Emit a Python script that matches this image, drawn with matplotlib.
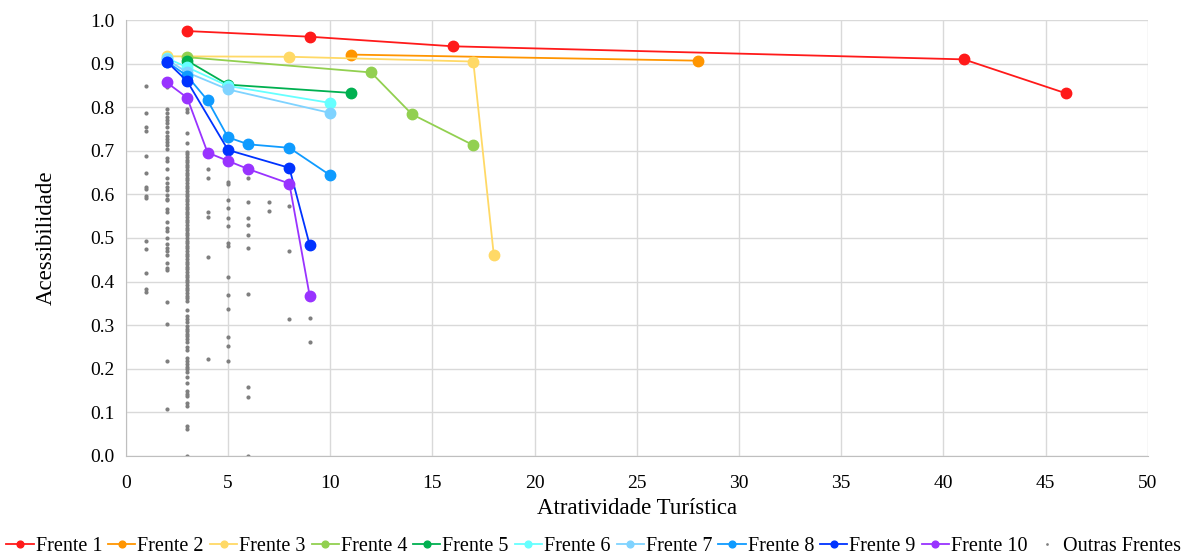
import matplotlib
matplotlib.use("Agg")
import matplotlib.pyplot as plt

plt.rcParams['font.family'] = ['Liberation Serif', 'DejaVu Serif']

# series (atratividade, acessibilidade)
f1_x = [3, 9, 16, 41, 46]
f1_y = [0.975, 0.962, 0.940, 0.910, 0.832]
f2_x = [11, 28]
f2_y = [0.921, 0.907]
f3_x = [2, 8, 17, 18]
f3_y = [0.917, 0.916, 0.905, 0.462]
f4_x = [3, 12, 14, 17]
f4_y = [0.915, 0.880, 0.784, 0.713]
f5_x = [3, 5, 11]
f5_y = [0.907, 0.852, 0.833]
f6_x = [2, 3, 5, 10]
f6_y = [0.913, 0.892, 0.849, 0.810]
f7_x = [2, 3, 5, 10]
f7_y = [0.910, 0.880, 0.841, 0.787]
f8_x = [2, 3, 4, 5, 6, 8, 10]
f8_y = [0.905, 0.872, 0.816, 0.731, 0.715, 0.707, 0.644]
f9_x = [2, 3, 5, 8, 9]
f9_y = [0.905, 0.860, 0.702, 0.661, 0.483]
f10_x = [2, 3, 4, 5, 6, 8, 9]
f10_y = [0.857, 0.822, 0.696, 0.677, 0.658, 0.625, 0.366]

# outras frentes, por coluna de atratividade
out_1 = [0.849, 0.788, 0.755, 0.745, 0.688, 0.650, 0.618, 0.613, 0.596, 0.591,
         0.494, 0.475, 0.419, 0.382, 0.375]
out_2 = [0.847, 0.795, 0.788, 0.778, 0.771, 0.763, 0.754, 0.743, 0.735, 0.728,
         0.720, 0.713, 0.705, 0.683, 0.676, 0.658, 0.637, 0.627, 0.618, 0.610,
         0.598, 0.590, 0.587, 0.567, 0.559, 0.537, 0.524, 0.516, 0.499, 0.486,
         0.478, 0.470, 0.461, 0.442, 0.432, 0.426, 0.354, 0.302, 0.217, 0.108]
out_3 = [0.797, 0.790, 0.742, 0.717, 0.698, 0.692, 0.686, 0.680, 0.674, 0.668,
         0.662, 0.656, 0.650, 0.644, 0.638, 0.632, 0.626, 0.620, 0.614, 0.608,
         0.602, 0.596, 0.590, 0.584, 0.578, 0.572, 0.566, 0.560, 0.554, 0.548,
         0.542, 0.536, 0.530, 0.524, 0.518, 0.512, 0.506, 0.500, 0.494, 0.488,
         0.482, 0.476, 0.470, 0.464, 0.458, 0.452, 0.446, 0.440, 0.434, 0.428,
         0.422, 0.416, 0.410, 0.404, 0.398, 0.392, 0.386, 0.380, 0.374, 0.368,
         0.362, 0.356, 0.335, 0.321, 0.315, 0.308, 0.298, 0.292, 0.286, 0.280,
         0.274, 0.268, 0.262, 0.250, 0.243, 0.225, 0.218, 0.211, 0.205, 0.199,
         0.193, 0.180, 0.167, 0.148, 0.142, 0.138, 0.122, 0.115, 0.069, 0.061,
         0.0]
out_4 = [0.658, 0.637, 0.559, 0.548, 0.456, 0.222]
out_5 = [0.629, 0.624, 0.587, 0.570, 0.545, 0.528, 0.489, 0.482, 0.411, 0.369,
         0.337, 0.272, 0.251, 0.218]
out_6 = [0.637, 0.583, 0.547, 0.529, 0.506, 0.477, 0.371, 0.159, 0.135, 0.0]
out_7 = [0.583, 0.562]
out_8 = [0.573, 0.471, 0.313]
out_9 = [0.317, 0.261]

series = [
    ("Frente 1", f1_x, f1_y, "#ff1a1a"),
    ("Frente 2", f2_x, f2_y, "#ff9500"),
    ("Frente 3", f3_x, f3_y, "#ffd966"),
    ("Frente 4", f4_x, f4_y, "#92d050"),
    ("Frente 5", f5_x, f5_y, "#00b050"),
    ("Frente 6", f6_x, f6_y, "#66ffff"),
    ("Frente 7", f7_x, f7_y, "#7fd3ff"),
    ("Frente 8", f8_x, f8_y, "#0f9bff"),
    ("Frente 9", f9_x, f9_y, "#0033ff"),
    ("Frente 10", f10_x, f10_y, "#9933ff"),
]

others = {1: out_1, 2: out_2, 3: out_3, 4: out_4, 5: out_5,
          6: out_6, 7: out_7, 8: out_8, 9: out_9}
ox, oy = [], []
for k, vals in others.items():
    ox += [k] * len(vals)
    oy += vals

fig = plt.figure(figsize=(11.87, 5.6), dpi=100)
ax = fig.add_axes([0.106, 0.186, 0.861, 0.778])

for name, x, y, c in series:
    ax.plot(x, y, color=c, lw=1.3, marker='o', ms=7.5, label=name, zorder=3)
ax.plot(ox, oy, ls='none', marker='o', ms=3, color='#7f7f7f', mec='none',
        label="Outras Frentes", zorder=2)

ax.set_xlim(0, 50)
ax.set_ylim(0, 1.0)
ax.set_xticks(range(0, 51, 5))
ax.set_yticks([i / 10 for i in range(11)])
ax.set_yticklabels([f"{i / 10:.1f}" for i in range(11)])
ax.tick_params(labelsize=14, length=0)
ax.tick_params(axis='x', pad=14)
ax.tick_params(axis='y', pad=8)
ax.grid(True, color='#d9d9d9', lw=1)
ax.set_axisbelow(True)
for s in ['top', 'right']:
    ax.spines[s].set_visible(False)
for s in ['left', 'bottom']:
    ax.spines[s].set_color('#bfbfbf')

ax.set_xlabel("Atratividade Turística", fontsize=16.5, labelpad=4)
ax.set_ylabel("Acessibilidade", fontsize=16.5, labelpad=24)

fig.legend(loc='center', bbox_to_anchor=(0.5, 0.024), ncol=11, frameon=False,
           fontsize=14.5, handlelength=1.35, handletextpad=0.1, columnspacing=0.3,
           markerscale=0.65, borderaxespad=0)

fig.savefig("out.png", dpi=100)
